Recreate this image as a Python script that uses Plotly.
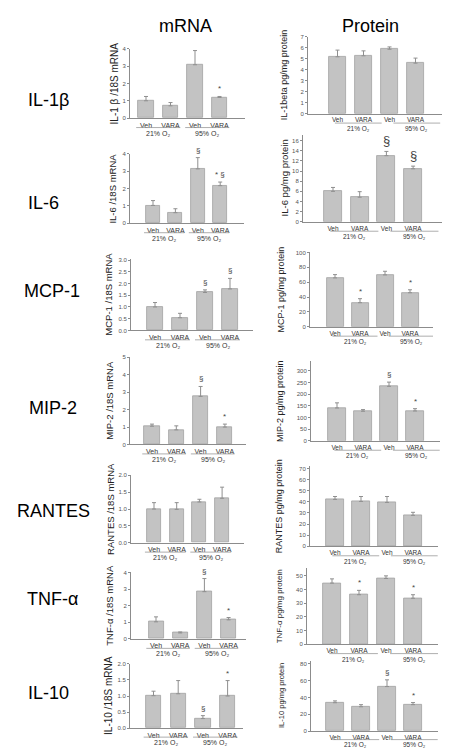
import plotly.graph_objects as go

W, H = 450, 748

# ---------------- data ----------------
cats = ["Veh", "VARA", "Veh", "VARA"]
groups = ["21% O₂", "95% O₂"]
cytokines = ["IL-1β", "IL-6", "MCP-1", "MIP-2", "RANTES", "TNF-α", "IL-10"]
col_titles = ["mRNA", "Protein"]
mrna_titles = ["IL-1 β /18S mRNA", "IL-6 /18S mRNA", "MCP-1 /18S mRNA", "MIP-2 /18S mRNA",
               "RANTES /18S mRNA", "TNF-α /18S mRNA", "IL-10 /18S mRNA"]
protein_titles = ["IL-1beta pg/mg protein", "IL-6 pg/mg protein", "MCP-1 pg/mg protein",
                  "MIP-2 pg/mg protein", "RANTES pg/mg protein", "TNF-α pg/mg protein",
                  "IL-10 pg/mg protein"]

# mRNA (relative to 18S), mean and upper error
mrna_il1b = [1.00, 0.71, 3.08, 1.19]
mrna_il1b_err = [0.25, 0.19, 0.82, 0.06]
mrna_il1b_sig = ["", "", "", "*"]
mrna_il6 = [1.03, 0.61, 3.14, 2.17]
mrna_il6_err = [0.28, 0.23, 0.65, 0.21]
mrna_il6_sig = ["", "", "§", "* §"]
mrna_mcp1 = [1.00, 0.54, 1.62, 1.77]
mrna_mcp1_err = [0.19, 0.19, 0.11, 0.45]
mrna_mcp1_sig = ["", "", "§", "§"]
mrna_mip2 = [1.05, 0.84, 2.76, 1.00]
mrna_mip2_err = [0.12, 0.23, 0.57, 0.17]
mrna_mip2_sig = ["", "", "§", "*"]
mrna_rantes = [1.00, 0.99, 1.21, 1.32]
mrna_rantes_err = [0.19, 0.20, 0.08, 0.33]
mrna_rantes_sig = ["", "", "", ""]
mrna_tnfa = [1.03, 0.36, 2.85, 1.15]
mrna_tnfa_err = [0.30, 0.06, 0.79, 0.14]
mrna_tnfa_sig = ["", "", "§", "*"]
mrna_il10 = [1.01, 1.07, 0.30, 1.00]
mrna_il10_err = [0.14, 0.41, 0.09, 0.48]
mrna_il10_sig = ["", "", "§", "*"]

# protein (pg/mg protein), mean and upper error
prot_il1b = [5.19, 5.28, 5.88, 4.61]
prot_il1b_err = [0.61, 0.45, 0.21, 0.46]
prot_il1b_sig = ["", "", "", ""]
prot_il6 = [6.00, 4.84, 13.03, 10.45]
prot_il6_err = [0.77, 1.10, 0.84, 0.52]
prot_il6_sig = ["", "", "§", "§"]
prot_mcp1 = [65.8, 32.4, 69.8, 45.8]
prot_mcp1_err = [4.4, 5.4, 4.9, 4.0]
prot_mcp1_sig = ["", "*", "", "*"]
prot_mip2 = [141, 127, 234, 128]
prot_mip2_err = [22, 7, 18, 10]
prot_mip2_sig = ["", "", "§", "*"]
prot_rantes = [42.2, 40.4, 39.5, 27.9]
prot_rantes_err = [2.6, 4.4, 5.3, 2.7]
prot_rantes_sig = ["", "", "", ""]
prot_tnfa = [44.7, 36.2, 48.1, 33.6]
prot_tnfa_err = [3.1, 3.2, 1.9, 2.6]
prot_tnfa_sig = ["", "*", "", "*"]
prot_il10 = [33.8, 29.0, 53.0, 31.5]
prot_il10_err = [2.2, 2.5, 8.0, 2.5]
prot_il10_sig = ["", "", "§", "*"]

mrna_vals = [mrna_il1b, mrna_il6, mrna_mcp1, mrna_mip2, mrna_rantes, mrna_tnfa, mrna_il10]
mrna_errs = [mrna_il1b_err, mrna_il6_err, mrna_mcp1_err, mrna_mip2_err, mrna_rantes_err,
             mrna_tnfa_err, mrna_il10_err]
mrna_sigs = [mrna_il1b_sig, mrna_il6_sig, mrna_mcp1_sig, mrna_mip2_sig, mrna_rantes_sig,
             mrna_tnfa_sig, mrna_il10_sig]
prot_vals = [prot_il1b, prot_il6, prot_mcp1, prot_mip2, prot_rantes, prot_tnfa, prot_il10]
prot_errs = [prot_il1b_err, prot_il6_err, prot_mcp1_err, prot_mip2_err, prot_rantes_err,
             prot_tnfa_err, prot_il10_err]
prot_sigs = [prot_il1b_sig, prot_il6_sig, prot_mcp1_sig, prot_mip2_sig, prot_rantes_sig,
             prot_tnfa_sig, prot_il10_sig]

# ---------------- layout geometry (pixels) ----------------
# left, right, first bar center, bar spacing, top tick value, top tick px, zero px,
# axis top px, dtick, tick format, title x px, title font size, sig font size,
# group-underline offset px, group-label offset px
mrna_geo = [
    (122, 237, 138.0, 24.5, 4, 38, 108, 38, 1, "d", 106, 10, 8, 9.5, 15),
    (122, 236, 145.0, 22.4, 4, 144, 214, 144, 1, "d", 105, 9.5, 8, 9.5, 15),
    (123, 245, 147.0, 25.0, 3.0, 251, 322, 250, 0.5, ".1f", 101, 9.5, 8, 9.5, 15),
    (122, 238, 144.0, 24.3, 5, 349, 437, 349, 1, "d", 102, 9.5, 8, 9.5, 15),
    (123, 236, 146.0, 22.7, 2.0, 468, 536, 468, 0.5, ".1f", 103, 9.5, 8, 9.5, 15),
    (123, 238, 148.0, 24.2, 4, 566, 633, 566, 1, "d", 102, 9.5, 8, 9.5, 15),
    (122, 235, 145.5, 24.7, 2.0, 658, 723, 658, 0.5, ".1f", 101, 10, 8, 9, 14),
]
prot_geo = [
    (300, 437, 329.5, 26.0, 7, 26, 103.5, 26, 1, "d", 276, 9, 8, 9.5, 15),
    (295, 435, 325.0, 26.7, 16, 130.5, 212.5, 125, 2, "d", 276, 9.5, 13, 9.5, 15),
    (302, 425, 327.0, 25.0, 100, 243.3, 318.3, 243, 20, "d", 273, 9, 8, 9.5, 15),
    (303, 432, 329.0, 26.0, 300, 362.7, 433.3, 353, 50, "d", 272, 9, 8, 9.5, 15),
    (302, 430, 327.0, 26.0, 70, 461, 539.7, 459, 10, "d", 271, 9, 8, 9.5, 15),
    (299, 430, 324.0, 27.0, 50, 569.3, 638.3, 562, 10, "d", 271, 8, 8, 9.5, 15),
    (303, 430, 327.0, 26.0, 80, 658, 726, 655, 20, "d", 274, 7.5, 8, 8.5, 13.5),
]
row_label_pos = [(40, 90), (35, 194), (44, 282), (45, 400), (45, 504), (44, 593), (40, 688)]

FONT = "Liberation Sans, Arial, DejaVu Sans, sans-serif"
BAR_FILL = "#c3c3c3"
BAR_LINE = "#a2a2a2"
AX = "#8c8c8c"

fig = go.Figure()
layout = {}
annotations = []
shapes = []

panels = []
for r in range(7):
    panels.append(("m", mrna_vals[r], mrna_errs[r], mrna_sigs[r], mrna_titles[r], mrna_geo[r]))
    panels.append(("p", prot_vals[r], prot_errs[r], prot_sigs[r], protein_titles[r], prot_geo[r]))

for k, (col, vals, errs, sigs, title, g) in enumerate(panels, start=1):
    (left, right, c1, sp, tv, tpx, zero, axtop, dtick, fmt, tx, tsize, ssize, loff, goff) = g
    xa = "x" if k == 1 else f"x{k}"
    ya = "y" if k == 1 else f"y{k}"
    xname = "xaxis" if k == 1 else f"xaxis{k}"
    yname = "yaxis" if k == 1 else f"yaxis{k}"
    x0 = -(c1 - left) / sp
    x1 = 3 + (right - (c1 + 3 * sp)) / sp
    ymax = tv * (zero - axtop) / (zero - tpx) * 1.002
    bw = 0.62 if col == "m" else 0.68

    fig.add_trace(go.Bar(
        x=[0, 1, 2, 3], y=vals, width=bw, xaxis=xa, yaxis=ya, showlegend=False,
        marker=dict(color=BAR_FILL, line=dict(color=BAR_LINE, width=0.8)),
        error_y=dict(type="data", array=errs, arrayminus=[0, 0, 0, 0], symmetric=False,
                     color="#8f8f8f", thickness=1, width=2),
        hoverinfo="skip",
    ))
    layout[xname] = dict(
        domain=[left / W, right / W], range=[x0, x1], anchor=ya,
        tickmode="array", tickvals=[0, 1, 2, 3], ticktext=cats,
        showline=True, linecolor=AX, linewidth=1, ticks="", showgrid=False, zeroline=False,
        tickfont=dict(size=7 if col == "m" else 6.5, color="#333", family=FONT),
        fixedrange=True,
    )
    layout[yname] = dict(
        domain=[1 - zero / H, 1 - axtop / H], range=[0, ymax], anchor=xa,
        tick0=0, dtick=dtick, tickformat=fmt,
        showline=True, linecolor=AX, linewidth=1, ticks="outside", ticklen=2, tickcolor=AX,
        showgrid=False, zeroline=False,
        tickfont=dict(size=6, color="#555", family=FONT), fixedrange=True,
    )
    # y-axis title
    annotations.append(dict(
        text=title, x=tx / W, y=1 - (zero + axtop) / 2 / H, xref="paper", yref="paper",
        textangle=-90, showarrow=False, xanchor="center", yanchor="middle",
        font=dict(size=tsize, color="#222", family=FONT),
    ))
    # significance marks
    for i, s in enumerate(sigs):
        if s:
            annotations.append(dict(
                text=s, x=i, y=vals[i] + errs[i], xref=xa, yref=ya, showarrow=False,
                xanchor="center", yanchor="bottom", yshift=1,
                font=dict(size=ssize, color="#444", family=FONT),
            ))
    # group underline + label
    shifts = [0.0, 0.0] if col == "m" else [0.3, 0.55]
    for gi, glabel in enumerate(groups):
        mid = 0.5 + 2 * gi + shifts[gi]
        shapes.append(dict(
            type="line", xref=xa, yref="paper", x0=mid - 0.9, x1=mid + 0.9,
            y0=1 - (zero + loff) / H, y1=1 - (zero + loff) / H,
            line=dict(color="#999", width=0.8),
        ))
        annotations.append(dict(
            text=glabel, x=mid, y=1 - (zero + goff) / H, xref=xa, yref="paper",
            showarrow=False, xanchor="center", yanchor="middle",
            font=dict(size=7 if col == "m" else 6.5, color="#333", family=FONT),
        ))

# row labels
for r, name in enumerate(cytokines):
    cx, cy = row_label_pos[r]
    annotations.append(dict(
        text=name, x=cx / W, y=1 - cy / H, xref="paper", yref="paper", showarrow=False,
        xanchor="center", yanchor="middle", font=dict(size=18, color="#000", family=FONT),
    ))
# column titles
for cx, t in zip([177, 362], col_titles):
    annotations.append(dict(
        text=t, x=cx / W, y=1 - 15 / H, xref="paper", yref="paper", showarrow=False,
        xanchor="center", yanchor="middle", font=dict(size=18, color="#000", family=FONT),
    ))

fig.update_layout(
    width=W, height=H, margin=dict(l=0, r=0, t=0, b=0),
    paper_bgcolor="white", plot_bgcolor="white",
    font=dict(family=FONT), annotations=annotations, shapes=shapes,
    bargap=0, **layout,
)

fig.write_html("out.html", config={"displayModeBar": False})
